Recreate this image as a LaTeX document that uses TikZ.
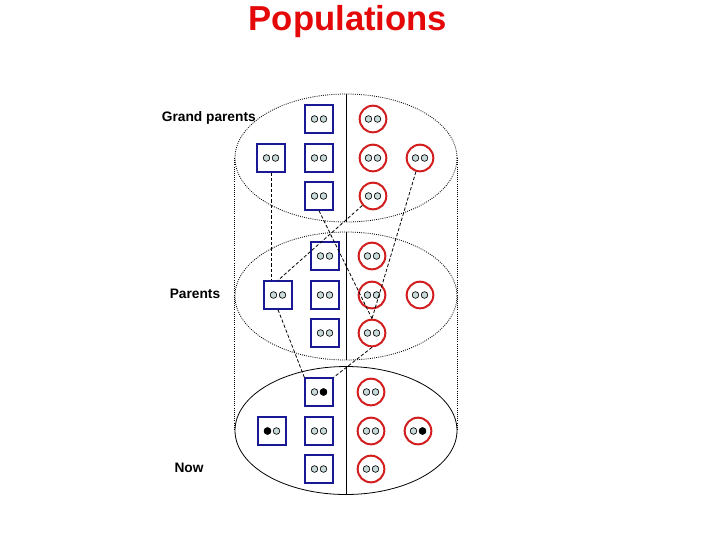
\documentclass[tikz,border=0pt]{standalone}
\usepackage{fontspec}
\setmainfont{Liberation Sans}
\usepackage{tikz}
\usepackage{xcolor}
\usetikzlibrary{shapes.geometric}

\definecolor{malecol}{RGB}{25,25,150}
\definecolor{femalecol}{RGB}{210,30,30}
\definecolor{titlecol}{RGB}{228,8,8}
\definecolor{genecol}{RGB}{200,218,218}

\begin{document}
\begin{tikzpicture}[
    x={(0.75pt,0)}, y={(0,-0.75pt)},
    male/.style={rectangle, draw=malecol, line width=1.5pt, minimum size=20.5pt, inner sep=0pt},
    female/.style={circle, draw=femalecol, line width=1.5pt, minimum size=20pt, inner sep=0pt},
    generation/.style={ellipse, draw, minimum width=166.5pt, minimum height=96pt, inner sep=0pt},
    dots/.style={line width=0.6pt, dash pattern=on 0.7pt off 0.9pt},
    descent/.style={draw, line width=0.6pt, dash pattern=on 2.5pt off 1.5pt},
    gene/.style={draw, line width=0.5pt, fill=genecol},
    label/.style={font=\bfseries\fontsize{10.3}{12}\selectfont, inner sep=0pt}
]
  \useasboundingbox (0,0) rectangle (720,540);

  \node[font=\bfseries\fontsize{26}{30}\selectfont, text=titlecol] (title) at (348,22) {Populations};

  % Generations
  \node[generation, dots] (gen1) at (346,158) {};
  \node[generation, dots] (gen2) at (346,296) {};
  \node[generation, line width=0.6pt] (gen3) at (346,430.5) {};
  \draw[line width=0.6pt] (gen1.north) -- (gen1.south);
  \draw[line width=0.6pt] (gen2.north) -- (gen2.south);
  \draw[line width=0.6pt] (gen3.north) -- (gen3.south);
  \draw[dots] (gen1.west) -- (gen3.west);
  \draw[dots] (gen1.east) -- (gen3.east);

  \node[label, anchor=east] (lab1) at (256,118) {Grand parents};
  \node[label] (lab2) at (195,294) {Parents};
  \node[label] (lab3) at (189,468) {Now};

  % Grand parents
  \node[male] (gm1) at (319,119) {};
  \node[male] (gm2) at (271,158) {};
  \node[male] (gm3) at (319,158) {};
  \node[male] (gm4) at (319,196) {};
  \node[female] (gf1) at (373,119) {};
  \node[female] (gf2) at (373,158) {};
  \node[female] (gf3) at (420,158) {};
  \node[female] (gf4) at (373,196) {};

  % Parents
  \node[male] (pm1) at (325,256) {};
  \node[male] (pm2) at (278,295) {};
  \node[male] (pm3) at (325,295) {};
  \node[male] (pm4) at (325,333) {};
  \node[female] (pf1) at (372,256) {};
  \node[female] (pf2) at (372,295) {};
  \node[female] (pf3) at (420,295) {};
  \node[female] (pf4) at (372,333) {};

  % Now
  \node[male] (nm1) at (319,392) {};
  \node[male] (nm2) at (272,431) {};
  \node[male] (nm3) at (319,431) {};
  \node[male] (nm4) at (319,469) {};
  \node[female] (nf1) at (371,392) {};
  \node[female] (nf2) at (371,431) {};
  \node[female] (nf3) at (418,431) {};
  \node[female] (nf4) at (371,469) {};

  % Genes
  \foreach \n in {gm1,gm2,gm3,gm4,gf1,gf2,gf3,gf4,pm1,pm2,pm3,pm4,pf1,pf2,pf3,pf4,nm1,nm2,nm3,nm4,nf1,nf2,nf3,nf4} {
    \draw[gene] (\n) ++(-4.5,0) circle[radius=2.5pt];
    \draw[gene] (\n) ++(4.5,0) circle[radius=2.5pt];
  }
  \fill (nm1) ++(4.5,0) circle[radius=2.8pt];
  \fill (nm2) ++(-4.5,0) circle[radius=2.8pt];
  \fill (nf3) ++(4.5,0) circle[radius=2.8pt];

  % Descent
  \draw[descent] (gm2.south) -- (gm2.south |- pm2.north);
  \draw[descent] (gf4) -- (pm2.north);
  \draw[descent] (gm4.south) -- (pf4.north);
  \draw[descent] (gf3) -- (pf4.north);
  \draw[descent] (pm2.south) -- (nm1.north west);
  \draw[descent] (pf4.south) -- (nm1.north east);
\end{tikzpicture}
\end{document}
